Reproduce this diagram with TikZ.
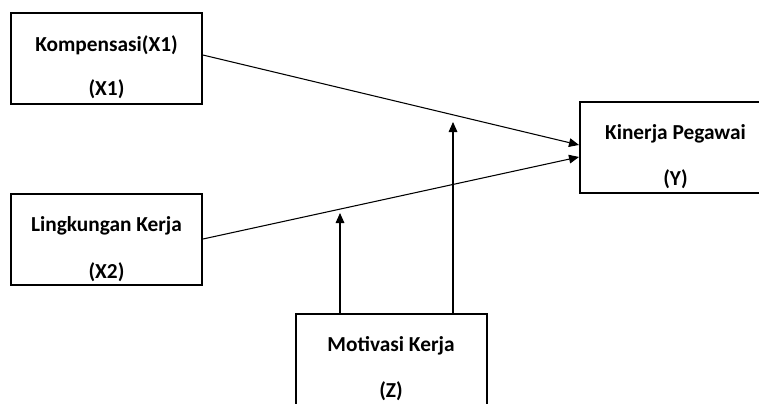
\documentclass[tikz,border=0pt]{standalone}
\usepackage{fontspec}
\setmainfont{Carlito}
\usetikzlibrary{arrows.meta,positioning}
\tikzset{var box/.style={draw,line width=1.5pt,minimum width=143.25pt,minimum height=68.25pt,inner sep=0pt},
var text/.style={align=center,font=\bfseries\fontsize{16}{19}\selectfont},
path arrow/.style={-{Triangle[length=7.5pt,width=6.5pt]},line width=0.8pt},
}

\begin{document}
\begin{tikzpicture}[x=0.75pt,y=-0.75pt]
	\useasboundingbox (0,0) rectangle (759,403);
	
	%% boxes
	\node[var box] (X1) at (106.5,58.5) {};
	\node[var box] (X2) at (106.5,239) {};
	\node[var box] (Y) at (675.5,147.5) {};
	\node[var box] (Z) at (391,359.5) {};
	
	\node[var text] (X1 text) at (106.5,67.5) {Kompensasi(X1)\\[14pt](X1)};
	\node[var text] (X2 text) at (106.5,249) {Lingkungan Kerja\\[16pt](X2)};
	\node[var text] (Y text) at (675.5,156.5) {Kinerja Pegawai\\[15pt](Y)};
	\node[var text] (Z text) at (391,368.5) {Motivasi Kerja\\[15pt](Z)};
	
	%% moderating ends
	\coordinate (m1) at (340,213);
	\coordinate (m2) at (453,122);
	
	\draw[path arrow] ([yshift=2.6pt]X1.east) -- ([yshift=1.9pt]Y.west);
	\draw[path arrow] (X2.east) -- ([yshift=-7.1pt]Y.west);
	\draw[path arrow] (Z.north -| m1) -- (m1);
	\draw[path arrow] (Z.north -| m2) -- (m2);
\end{tikzpicture}
\end{document}
